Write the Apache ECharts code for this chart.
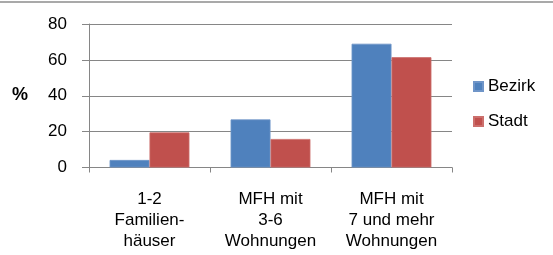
<!DOCTYPE html>
<html>
<head>
<meta charset="utf-8">
<script src="https://cdn.jsdelivr.net/npm/echarts@6/dist/echarts.min.js"></script>
<style>
  html, body { margin: 0; padding: 0; background: #fff; }
  #chart { width: 553px; height: 255px; }
</style>
</head>
<body>
<div id="chart"></div>
<script>
// Werte
var categories = ['1-2\nFamilien-\nhäuser', 'MFH mit\n3-6\nWohnungen', 'MFH mit\n7 und mehr\nWohnungen'];
var bezirk = [4.2, 26.8, 69];
var stadt = [19.6, 15.9, 61.5];
var yTicks = [0, 20, 40, 60, 80];

var font = 'Liberation Sans, Arial, sans-serif';
var myChart = echarts.init(document.getElementById('chart'));

var option = {
  animation: false,
  color: ['#4F81BD', '#C0504D'],
  grid: {
    left: 89,
    right: 101,
    top: 24,
    bottom: 87.5
  },
  legend: {
    orient: 'vertical',
    left: 468,
    top: 73,
    itemWidth: 9,
    itemHeight: 9,
    itemGap: 18,
    icon: 'rect',
    textStyle: { fontFamily: font, fontSize: 17, color: '#000', lineHeight: 17 },
    data: ['Bezirk', 'Stadt']
  },
  xAxis: {
    type: 'category',
    data: categories,
    axisLine: { lineStyle: { color: '#868686', width: 1 } },
    axisTick: { show: true, length: 5, lineStyle: { color: '#868686' } },
    axisLabel: {
      interval: 0,
      margin: 21,
      fontFamily: font,
      fontSize: 17,
      lineHeight: 21,
      color: '#000'
    }
  },
  yAxis: {
    type: 'value',
    min: yTicks[0],
    max: yTicks[yTicks.length - 1],
    interval: 20,
    axisLine: { show: true, lineStyle: { color: '#868686', width: 1 } },
    axisTick: { show: true, inside: false, length: 7, lineStyle: { color: '#868686' } },
    splitLine: { lineStyle: { color: '#868686', width: 1 } },
    axisLabel: {
      margin: 22,
      fontFamily: font,
      fontSize: 17,
      color: '#000'
    }
  },
  graphic: [
    {
      type: 'line',
      shape: { x1: 0, y1: 2, x2: 553, y2: 2 },
      style: { stroke: '#8c8c8c', lineWidth: 1.5 }
    },
    {
      type: 'text',
      left: 12,
      top: 86,
      style: { text: '%', font: 'bold 18px ' + font, fill: '#000' }
    }
  ],
  series: [
    {
      name: 'Bezirk',
      type: 'bar',
      data: bezirk,
      barGap: '0%',
      barCategoryGap: '34%',
      itemStyle: { borderColor: '#6f95c8', borderWidth: 0.8 }
    },
    {
      name: 'Stadt',
      type: 'bar',
      data: stadt,
      itemStyle: { borderColor: '#cc6f6c', borderWidth: 0.8 }
    }
  ]
};
myChart.setOption(option);
</script>
</body>
</html>
